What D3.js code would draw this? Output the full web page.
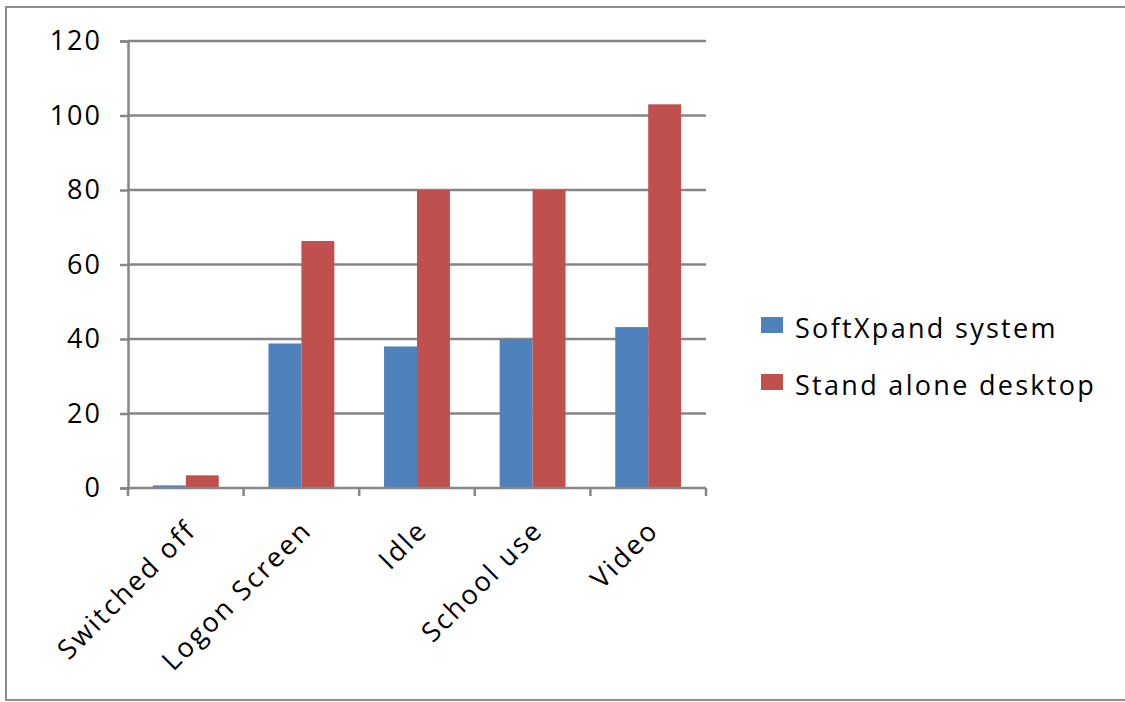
<!DOCTYPE html>
<html>
<head>
<meta charset="utf-8">
<script src="https://cdn.jsdelivr.net/npm/d3@7"></script>
<style>
  body { margin: 0; background: #fff; }
  text { font-family: "Open Sans", "Liberation Sans", sans-serif; fill: #000; }
</style>
</head>
<body>
<div id="chart"></div>
<script>
// chart data
var categories = ["Switched off", "Logon Screen", "Idle", "School use", "Video"];
var seriesNames = ["SoftXpand system", "Stand alone desktop"];
var softXpand = [0.7, 38.8, 38, 40, 43.2];
var standAlone = [3.4, 66.3, 80, 80, 103];
var yTicks = [0, 20, 40, 60, 80, 100, 120];
var colors = ["#4F81BD", "#C0504D"];

var W = 1125, H = 702;
var plotLeft = 128, plotRight = 706, plotTop = 41, plotBottom = 488;

var svg = d3.select("#chart").append("svg").attr("width", W).attr("height", H);

// outer frame
svg.append("rect")
    .attr("x", 6).attr("y", 7)
    .attr("width", W + 10).attr("height", H - 9)
    .attr("fill", "none")
    .attr("stroke", "#8e8e8e")
    .attr("stroke-width", 2);

var x = d3.scaleBand().domain(categories).range([plotLeft, plotRight]).paddingInner(0.43).paddingOuter(0.215);
var xSeries = d3.scaleBand().domain(seriesNames).range([0, x.bandwidth()]);
var y = d3.scaleLinear().domain([0, 120]).range([plotBottom, plotTop]);

/** gridlines + y axis */
svg.append("g").selectAll("line").data(yTicks.slice(1)).enter().append("line")
    .attr("x1", plotLeft).attr("x2", plotRight)
    .attr("y1", function (d) { return y(d); })
    .attr("y2", function (d) { return y(d); })
    .attr("stroke", "#868686")
    .attr("stroke-width", 2.5);

var yAxis = d3.axisLeft(y).tickValues(yTicks).tickSize(8).tickPadding(18).tickFormat(d3.format("d"));
var gy = svg.append("g").attr("transform", "translate(" + plotLeft + ",0)").call(yAxis);
gy.select(".domain").attr("stroke", "#868686").attr("stroke-width", 2.5);
gy.selectAll(".tick line").attr("stroke", "#868686").attr("stroke-width", 2.5);
gy.selectAll(".tick text").attr("font-family", null).style("font-size", "27px").attr("letter-spacing", "2px");

/** bars */
var rows = categories.map(function (c, i) {
    return { cat: c, vals: [softXpand[i], standAlone[i]] };
});
var groups = svg.append("g").selectAll("g").data(rows).enter().append("g")
    .attr("transform", function (d) { return "translate(" + x(d.cat) + ",0)"; });
groups.selectAll("rect")
    .data(function (d) { return d.vals.map(function (v, j) { return { name: seriesNames[j], v: v, j: j }; }); })
    .enter().append("rect")
    .attr("x", function (d) { return xSeries(d.name); })
    .attr("width", xSeries.bandwidth())
    .attr("y", function (d) { return y(d.v); })
    .attr("height", function (d) { return y(0) - y(d.v); })
    .attr("fill", function (d) { return colors[d.j]; });

/** x axis */
var boundaries = d3.range(categories.length + 1).map(function (i) { return plotLeft + i * x.step(); });
svg.append("line")
    .attr("x1", plotLeft).attr("x2", plotRight)
    .attr("y1", plotBottom).attr("y2", plotBottom)
    .attr("stroke", "#868686").attr("stroke-width", 2.5);
svg.append("g").selectAll("line").data(boundaries).enter().append("line")
    .attr("x1", function (d) { return d; }).attr("x2", function (d) { return d; })
    .attr("y1", plotBottom).attr("y2", plotBottom + 8)
    .attr("stroke", "#868686").attr("stroke-width", 2.5);

svg.append("g").selectAll("text").data(categories).enter().append("text")
    .attr("transform", function (d) {
        return "translate(" + (x(d) + x.bandwidth() / 2 + 12) + "," + (plotBottom + 44) + ") rotate(-45)";
    })
    .attr("text-anchor", "end")
    .style("font-size", "27px")
    .attr("letter-spacing", "2.3px")
    .text(function (d) { return d; });

/** legend */
var legend = svg.append("g").selectAll("g").data(seriesNames).enter().append("g")
    .attr("transform", function (d, i) { return "translate(761," + (317 + i * 57) + ")"; });
legend.append("rect").attr("width", 22).attr("height", 16)
    .attr("fill", function (d, i) { return colors[i]; });
legend.append("text").attr("x", 34).attr("y", 21)
    .style("font-size", "27px")
    .attr("letter-spacing", "2.3px")
    .text(function (d) { return d; });
</script>
</body>
</html>
